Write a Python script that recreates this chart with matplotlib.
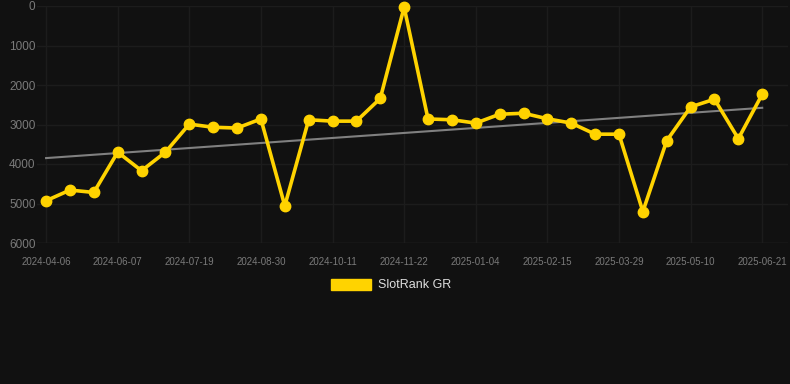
import numpy as np
import matplotlib
matplotlib.use("Agg")
import matplotlib.pyplot as plt
from matplotlib.patches import Patch

# SlotRank GR, one point every two weeks (lower rank = better, axis inverted)
dates = ["2024-04-06", "2024-06-07", "2024-07-19", "2024-08-30", "2024-10-11",
         "2024-11-22", "2025-01-04", "2025-02-15", "2025-03-29", "2025-05-10",
         "2025-06-21"]
rank = [4930, 4660, 4720, 3700, 4170, 3700, 2990, 3070, 3090, 2860,
        5060, 2880, 2915, 2915, 2340, 30, 2860, 2880, 2965, 2740,
        2715, 2855, 2965, 3245, 3245, 5205, 3410, 2555, 2360, 3360,
        2235]
series_name = "SlotRank GR"

bg = "#111111"
gold = "#FFD300"
plt.rcParams["font.family"] = ["Liberation Sans", "DejaVu Sans"]

fig = plt.figure(figsize=(7.9, 3.84), dpi=100, facecolor=bg)
ax = fig.add_axes([37 / 790, 141 / 384, 751 / 790, 237 / 384])
ax.set_facecolor(bg)

x = np.arange(len(rank))
y = np.array(rank, dtype=float)

# linear trend
k, b = np.polyfit(x, y, 1)
ax.plot(x, k * x + b, color="#808080", lw=1.5, zorder=2)

ax.plot(x, y, color=gold, lw=2.6, marker="o", ms=7.5, zorder=3, clip_on=False)

ax.set_xlim(-0.38, 31.08)
ax.set_ylim(6000, 0)
ax.set_yticks(range(0, 6001, 1000))
ax.set_xticks(range(0, len(rank), 3))
ax.set_xticklabels(dates)

ax.grid(True, color="#1c1c1c", lw=1)
ax.set_axisbelow(True)
for s in ax.spines.values():
    s.set_visible(False)
ax.axhline(6000, color="#262626", lw=1, zorder=1)

ax.tick_params(axis="y", length=0, pad=1, labelsize=8.5, labelcolor="#7a7a7a")
ax.tick_params(axis="x", length=0, pad=10, labelsize=7, labelcolor="#7a7a7a")

fig.legend(handles=[Patch(color=gold, label=series_name)],
           loc="center", bbox_to_anchor=(0.495, 1 - 285 / 384),
           frameon=False, fontsize=9, labelcolor="#dddddd",
           handlelength=3.2, handleheight=1.0, handletextpad=0.5)

fig.savefig("out.png", dpi=100, facecolor=bg)
